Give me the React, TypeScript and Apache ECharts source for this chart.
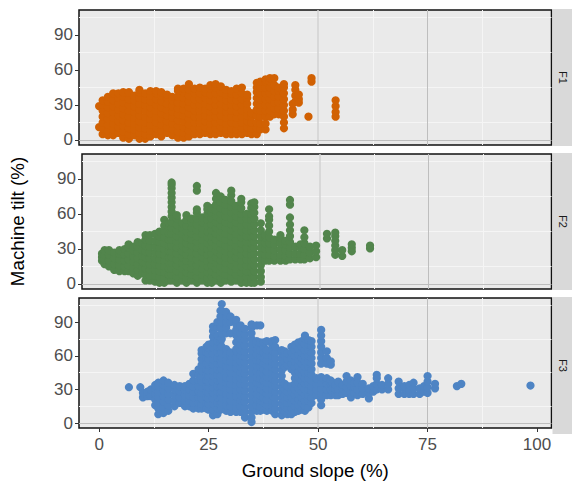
import React, { useEffect, useRef } from "react";
import * as echarts from "echarts";

const panelNames = ["F1", "F2", "F3"];
const colors = ["#D16103", "#52854C", "#4E84C4"];
const xTicks = [0, 25, 50, 75, 100];
const yTicks = [0, 30, 60, 90];
const whiteX = [12.5, 37.5, 62.5, 87.5];
const whiteY = [15, 45, 75, 105];

const f1Slopes = [0, 0.8, 2, 3.2, 4.4, 5.5, 6.8, 8, 9.2, 10.5, 11.7, 13, 14.2, 15.5, 16.7, 18, 19.3, 20.5, 21.8, 23, 24.2, 25.4, 26.6, 27.8, 29, 30.2, 31.4, 32.6, 33.8, 34.8, 36, 36.8, 38, 39, 40, 41, 42.2, 44.2, 44.8, 45.6, 47.8, 48.5, 54];
const f1Tilts = [
  [11, 29],
  [5, 10, 15, 20, 25, 30, 34],
  [4, 8, 13, 18, 23, 28, 33, 37],
  [4, 9, 14, 19, 24, 29, 34, 40],
  [6, 11, 16, 21, 26, 31, 36, 40],
  [2, 7, 12, 17, 22, 27, 32, 37, 41],
  [1, 5, 10, 15, 20, 25, 30, 35, 41],
  [4, 9, 14, 19, 24, 29, 34, 38],
  [1, 6, 11, 16, 21, 26, 31, 36, 41, 43],
  [1, 5, 10, 15, 20, 25, 30, 35, 40],
  [3, 8, 13, 18, 23, 28, 33, 38, 42],
  [5, 10, 15, 20, 25, 30, 35, 40, 42],
  [3, 8, 13, 18, 23, 28, 33, 38, 41],
  [6, 11, 16, 21, 26, 31, 36, 39],
  [4, 9, 14, 19, 24, 29, 34, 37],
  [2, 7, 12, 17, 22, 27, 32, 37, 42, 44],
  [2, 6, 11, 16, 21, 26, 31, 36, 41, 44],
  [3, 8, 13, 18, 23, 28, 33, 38, 43, 48],
  [5, 10, 15, 20, 25, 30, 35, 40, 44],
  [5, 10, 15, 20, 25, 30, 35, 40, 45],
  [6, 11, 16, 21, 26, 31, 36, 41, 44],
  [5, 9, 14, 19, 24, 29, 34, 39, 44, 47],
  [5, 10, 15, 20, 25, 30, 35, 40, 45, 48],
  [6, 11, 16, 21, 26, 31, 36, 41, 46],
  [5, 9, 14, 19, 24, 29, 34, 39, 43],
  [5, 10, 15, 20, 25, 30, 35, 40, 42],
  [5, 9, 14, 19, 24, 29, 34, 39, 44],
  [5, 10, 15, 20, 25, 30, 35, 40, 45],
  [6, 11, 16, 21, 26, 31, 36, 39],
  [5, 10, 15, 20, 23],
  [5, 10, 15, 21, 26, 31, 36, 41, 45, 49],
  [9, 14, 20, 25, 30, 35, 40, 45, 50],
  [9, 14, 20, 25, 30, 35, 40, 45, 50, 52],
  [20, 25, 30, 35, 40, 45, 50, 53],
  [22, 27, 32, 37, 42, 47, 53],
  [22, 27, 32, 37, 42, 45],
  [10, 15, 20, 25, 30, 35, 40, 45, 48],
  [22, 26, 31],
  [33, 38, 43, 47],
  [32, 35, 39],
  [20],
  [50, 53],
  [20, 24, 29, 34],
];

const f2Slopes = [0, 0.6, 1.6, 2.8, 4, 5.2, 6.1, 7.2, 8.2, 9.3, 10, 11, 12.2, 13.2, 14.3, 15.4, 16, 17.2, 18.4, 19.4, 20.6, 21.8, 23, 24.2, 25.2, 26.2, 27.3, 28.4, 29.7, 30.8, 32, 33.2, 34.3, 35, 36.5, 37.5, 38.4, 39.6, 41, 42.2, 43.2, 44.4, 45.6, 46.5, 47.8, 49.2, 51.7, 53.6, 55.2, 57.4, 61.6];
const f2Tilts = [
  [20, 23, 26],
  [17, 21, 25, 29],
  [15, 20, 25, 29],
  [12, 17, 22, 27],
  [11, 16, 21, 26, 29],
  [11, 15, 20, 25, 30],
  [11, 16, 21, 26, 31, 34],
  [9, 14, 19, 24, 29, 32],
  [7, 12, 17, 22, 27, 32, 36],
  [9, 14, 19, 24, 29, 35],
  [3, 8, 13, 18, 23, 28, 33, 38, 42],
  [3, 7, 12, 17, 22, 27, 32, 37, 42],
  [2, 7, 12, 17, 22, 27, 32, 37, 43],
  [1, 6, 11, 16, 21, 26, 31, 36, 41, 45],
  [1, 5, 10, 15, 20, 25, 30, 35, 40, 45, 50, 55],
  [3, 8, 13, 18, 23, 28, 33, 38, 43, 48, 52],
  [3, 8, 13, 18, 23, 28, 33, 38, 43, 48, 53, 58, 62, 66, 70, 74, 78, 82, 85, 87],
  [1, 6, 11, 16, 21, 26, 31, 36, 41, 46, 51, 56, 59],
  [3, 8, 13, 18, 23, 28, 33, 38, 43, 48, 52],
  [1, 5, 10, 15, 20, 25, 30, 35, 40, 45, 50, 55, 59],
  [3, 8, 13, 18, 23, 28, 33, 38, 43, 48, 53, 56],
  [1, 6, 11, 16, 21, 26, 31, 36, 41, 46, 51, 56, 61, 64, 80, 84],
  [3, 8, 13, 18, 23, 28, 33, 38, 43, 48, 53, 57],
  [1, 5, 10, 15, 20, 25, 30, 35, 40, 45, 50, 55, 60, 64, 67],
  [1, 6, 11, 16, 21, 26, 31, 36, 41, 46, 51, 56, 61, 65],
  [3, 8, 13, 18, 23, 28, 33, 38, 43, 48, 53, 58, 63, 68, 73, 78],
  [1, 5, 10, 15, 20, 25, 30, 35, 40, 45, 50, 55, 60, 65, 70, 75],
  [3, 8, 13, 18, 23, 28, 33, 38, 43, 48, 53, 58, 63, 68, 72],
  [2, 6, 11, 16, 21, 26, 31, 36, 41, 46, 51, 56, 61, 66, 71, 76, 80],
  [3, 8, 13, 18, 23, 28, 33, 38, 43, 48, 53, 58, 63, 67],
  [1, 5, 10, 15, 20, 25, 30, 35, 40, 45, 50, 55, 60, 65, 70, 73],
  [1, 6, 11, 16, 21, 26, 31, 36, 41, 46, 51, 56, 60],
  [1, 5, 10, 15, 20, 25, 30, 35, 40, 45, 50, 55, 60, 65, 69],
  [1, 6, 11, 16, 21, 26, 31, 36, 41, 46, 51, 56, 61, 66, 70],
  [2, 6, 11, 16, 21, 26, 31, 36, 41, 46, 52],
  [20, 25, 30, 35, 40, 42],
  [20, 25, 30, 35, 40, 45, 50, 55, 58, 64],
  [20, 24, 29, 34, 38],
  [20, 25, 30, 35, 40, 42],
  [20, 24, 29, 34, 37],
  [21, 26, 31, 36, 41, 46, 51, 57, 68, 72],
  [21, 26, 32],
  [21, 26, 31, 34],
  [21, 25, 30, 35, 40, 46],
  [22, 27, 32],
  [23, 28, 33],
  [39, 43],
  [25, 29, 33, 37, 41, 44],
  [24, 29],
  [28, 31, 34],
  [30.5, 33],
];

const f3Slopes = [6.8, 9.4, 10, 11, 11.8, 12.8, 13.5, 14.7, 15.8, 17.2, 18.4, 19.6, 20.6, 21.5, 22.7, 23.4, 24.5, 25, 26, 27, 27.7, 28, 29, 30, 31.3, 32.3, 33.3, 34.8, 36, 36.8, 37.6, 38.3, 39.5, 40.2, 41.7, 42.4, 43, 43.9, 44.7, 45.5, 46.3, 47, 47.8, 48.5, 49.6, 50.7, 52, 52.9, 53.4, 54, 54.6, 55.6, 56.5, 57.5, 58.3, 59, 60.2, 61.6, 62.6, 63.4, 64.6, 66, 68.4, 69.7, 70.8, 71.8, 73.2, 74.2, 75, 76.7, 81.7, 82.7, 98.5];
const f3Tilts = [
  [32],
  [32],
  [23, 27],
  [24, 28],
  [24, 30],
  [16, 21, 26, 31, 34],
  [8, 13, 18, 23, 28, 33, 36],
  [9, 14, 19, 24, 29, 34, 38],
  [11, 16, 21, 26, 31, 36],
  [15, 20, 25, 30, 34],
  [18, 23, 28, 33],
  [15, 20, 25, 30, 33],
  [15, 20, 25, 30, 35],
  [13, 18, 23, 28, 33, 38, 44],
  [13, 18, 23, 28, 33, 38, 43, 48],
  [13, 17, 22, 27, 32, 37, 42, 47, 52, 57, 62, 65],
  [13, 18, 23, 28, 33, 38, 43, 48, 53, 58, 63, 68],
  [12, 17, 22, 27, 32, 37, 42, 47, 52, 57, 62, 67, 70],
  [7, 12, 17, 22, 27, 32, 37, 42, 47, 52, 57, 62, 67, 72, 77, 82, 86],
  [8, 13, 18, 23, 28, 33, 38, 43, 48, 53, 58, 63, 68, 73, 78, 85, 90],
  [12, 17, 22, 27, 32, 37, 42, 47, 52, 57, 62, 67, 72, 75, 85, 90, 95, 100],
  [13, 18, 23, 28, 33, 38, 43, 48, 53, 58, 63, 68, 75, 80, 85, 90, 95, 100, 106],
  [11, 16, 21, 26, 31, 36, 41, 46, 51, 56, 61, 66, 80, 85, 90, 95, 99],
  [10, 15, 20, 25, 30, 35, 40, 45, 50, 55, 60, 63, 80, 90, 95],
  [10, 14, 19, 24, 29, 34, 39, 44, 49, 54, 59, 64, 66, 72, 78, 83, 88, 92],
  [10, 15, 20, 25, 30, 35, 40, 45, 50, 55, 60, 65, 70, 75, 80, 85, 87],
  [5, 10, 14, 19, 24, 29, 34, 39, 44, 49, 54, 59, 64, 69, 74, 79, 84],
  [1, 5, 10, 15, 20, 25, 30, 35, 40, 45, 50, 55, 60, 65, 70, 75, 80, 85, 88],
  [11, 16, 21, 26, 31, 36, 41, 46, 51, 56, 61, 66, 70, 73, 87],
  [11, 15, 20, 25, 30, 35, 40, 45, 50, 55, 60, 65, 72, 87],
  [12, 18, 23, 28, 33, 38, 43, 48, 53, 58, 63, 68, 72],
  [11, 16, 21, 26, 31, 36, 41, 46, 51, 56, 61, 65, 73],
  [11, 15, 20, 25, 30, 35, 40, 45, 50, 55, 60, 65, 70, 73],
  [8, 13, 18, 23, 28, 33, 38, 43, 48, 53, 58, 63, 68, 74],
  [7, 12, 17, 22, 27, 32, 37, 42, 47, 52, 57, 62, 65],
  [10, 15, 20, 25, 30, 35, 50, 55, 60, 64],
  [8, 13, 18, 23, 28, 33, 52, 57, 62],
  [8, 13, 18, 23, 28, 33, 48, 53, 58, 63, 68],
  [10, 15, 20, 25, 30, 35, 40, 45, 50, 55, 60, 65, 70],
  [11, 16, 21, 26, 31, 36, 41, 46, 51, 56, 61, 66, 72],
  [12, 18, 23, 28, 33, 38, 43, 48, 53, 58, 63, 68, 73],
  [11, 15, 20, 25, 30, 35, 40, 45, 50, 55, 60, 65, 70, 75, 78],
  [14, 20, 25, 30, 35, 40, 45, 50, 55, 60, 65, 70, 74],
  [18, 23, 28, 33, 38, 43, 48, 53, 58, 63, 68, 73],
  [25, 30, 35, 40],
  [16, 21, 26, 31, 36, 41, 53, 58, 63, 68, 73, 78, 83],
  [25, 30, 35, 40, 53, 58, 64],
  [25, 30, 35, 38, 52, 55],
  [27, 32, 36],
  [25, 30, 34],
  [25, 30, 37],
  [26, 31, 34],
  [27, 32, 37, 42],
  [23, 28, 33, 38],
  [27, 32, 36],
  [25, 30, 36, 41],
  [26, 31, 35],
  [22, 27, 31],
  [28, 33],
  [30, 35, 40, 43],
  [30, 34],
  [30, 35, 40],
  [26, 31, 37],
  [26, 31, 33],
  [26, 30, 34],
  [26, 31, 36],
  [26, 31],
  [28, 33],
  [27, 32, 37, 42],
  [31, 35],
  [33],
  [35],
  [33.5],
];

const slopeSets = [f1Slopes, f2Slopes, f3Slopes];
const tiltSets = [f1Tilts, f2Tilts, f3Tilts];

export default function App() {
  const ref = useRef<HTMLDivElement>(null);
  useEffect(() => {
    const chart = echarts.init(ref.current!, undefined, { renderer: "svg" });
    const tops = [10, 154, 298];
    const height = 135;
    const left = 79;
    const width = 472.5;
    const font = "Liberation Sans";
    chart.setOption({
      animation: false,
      backgroundColor: "#fff",
      grid: tops.map((top) => ({
        show: true, left, top, width, height,
        backgroundColor: "#EAEAEA", borderColor: "#111", borderWidth: 1.5, containLabel: false,
      })),
      xAxis: tops.map((_, i) => ({
        type: "value", gridIndex: i, min: -4.6, max: 103.3,
        splitLine: { show: false }, axisLine: { show: false, onZero: false },
        name: i === 2 ? "Ground slope (%)" : "", nameLocation: "middle", nameGap: 33,
        nameTextStyle: { fontFamily: font, fontSize: 18.8, color: "#000" },
        axisTick: { show: i === 2, length: 4, lineStyle: { color: "#333" }, customValues: xTicks },
        axisLabel: { show: i === 2, margin: 8, fontFamily: font, fontSize: 17, color: "#4D4D4D", customValues: xTicks, hideOverlap: false, showMinLabel: true, showMaxLabel: true },
      })),
      yAxis: tops.map((_, i) => ({
        type: "value", gridIndex: i, min: -4.3, max: 111.4,
        splitLine: { show: false }, axisLine: { show: false, onZero: false },
        name: i === 1 ? "Machine tilt (%)" : "", nameLocation: "middle", nameGap: 55,
        nameTextStyle: { fontFamily: font, fontSize: 18.8, color: "#000" },
        axisTick: { show: true, length: 4, lineStyle: { color: "#333" }, customValues: yTicks },
        axisLabel: { margin: 6, fontFamily: font, fontSize: 17, color: "#4D4D4D", customValues: yTicks, padding: [3, 0, 0, 0] },
      })),
      series: tops.flatMap((_, i) => [
        {
          type: "line", xAxisIndex: i, yAxisIndex: i, data: [], silent: true, z: 1,
          markLine: {
            silent: true, symbol: "none", label: { show: false }, z: 1, animation: false,
            data: [
              ...whiteX.map((v) => ({ xAxis: v, lineStyle: { color: "#F5F5F5", width: 1, type: "solid" } })),
              ...whiteY.map((v) => ({ yAxis: v, lineStyle: { color: "#F5F5F5", width: 1, type: "solid" } })),
              { xAxis: 50, lineStyle: { color: "#D2D2D2", width: 1.5, type: "solid" } },
              { xAxis: 75, lineStyle: { color: "#BEBEBE", width: 1, type: "solid" } },
              { yAxis: 0, lineStyle: { color: "#BEBEBE", width: 1, type: "solid" } },
            ],
          },
        },
        {
          type: "scatter", name: panelNames[i], xAxisIndex: i, yAxisIndex: i, z: 3,
          symbol: "circle", symbolSize: 8.2, silent: true,
          itemStyle: { color: colors[i], opacity: 1 },
          data: tiltSets[i].flatMap((ys, c) => ys.map((y) => [slopeSets[i][c], y])),
        },
      ]),
      graphic: tops.flatMap((top, i) => [
        { type: "rect", silent: true, shape: { x: 552.5, y: top - 1, width: 20, height: height + 2 }, style: { fill: "#D9D9D9" } },
        {
          type: "text", silent: true, x: 563, y: top + height / 2, rotation: -Math.PI / 2,
          style: { text: panelNames[i], fontFamily: font, fontSize: 11, fill: "#1A1A1A", textAlign: "center", textVerticalAlign: "middle" },
        },
      ]),
    });
    return () => chart.dispose();
  }, []);
  return <div ref={ref} style={{ position: "absolute", left: 0, top: 0, width: 572, height: 481 }} />;
}
